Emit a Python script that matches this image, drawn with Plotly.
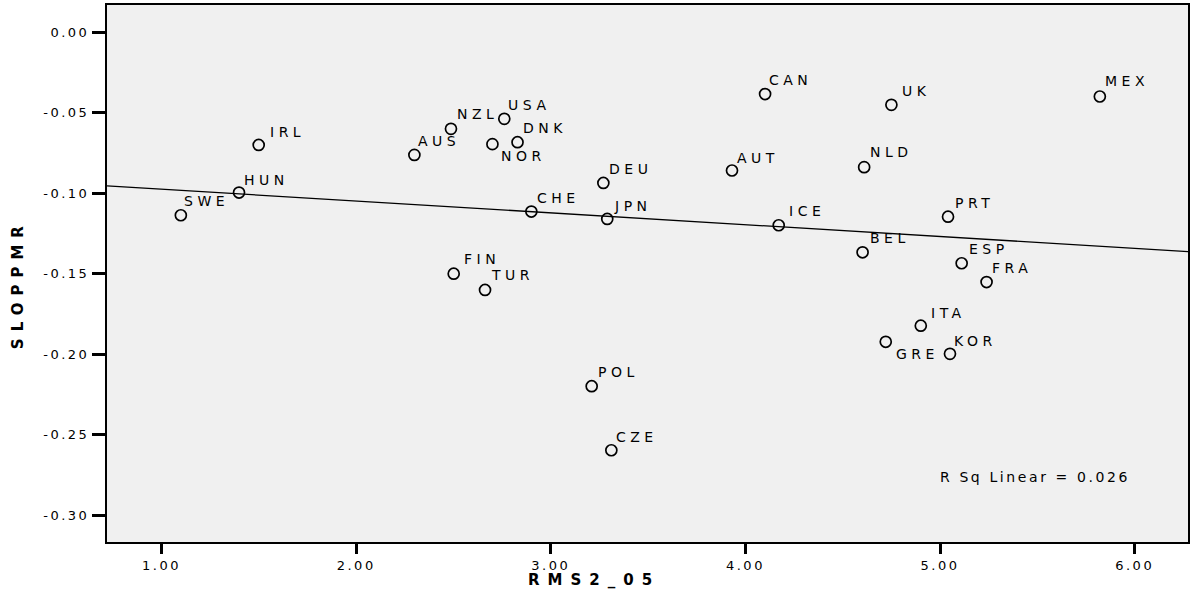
import plotly.graph_objects as go

countries = ["SWE", "HUN", "IRL", "AUS", "NZL", "USA", "NOR", "DNK", "DEU", "CHE",
             "JPN", "FIN", "TUR", "POL", "CZE", "CAN", "UK", "MEX", "AUT", "NLD",
             "ICE", "PRT", "BEL", "ESP", "FRA", "ITA", "GRE", "KOR"]
rms2_05 = [1.099, 1.398, 1.499, 2.299, 2.487, 2.761, 2.700, 2.829, 3.270, 2.900,
           3.290, 2.501, 2.662, 3.210, 3.311, 4.101, 4.750, 5.821, 3.931, 4.610,
           4.171, 5.041, 4.602, 5.111, 5.239, 4.901, 4.721, 5.051]
sloppmr = [-0.1136, -0.0995, -0.0699, -0.0761, -0.0599, -0.0537, -0.0694, -0.0682, -0.0935, -0.1113,
           -0.1159, -0.1499, -0.1600, -0.2198, -0.2596, -0.0383, -0.0450, -0.0398, -0.0858, -0.0837,
           -0.1198, -0.1145, -0.1366, -0.1434, -0.1551, -0.1822, -0.1922, -0.1997]

fit_intercept = -0.09006
fit_slope = -0.007347
r_sq_text = "R Sq Linear = 0.026"

x_ticks = [1, 2, 3, 4, 5, 6]
x_tick_labels = ["1.00", "2.00", "3.00", "4.00", "5.00", "6.00"]
y_ticks = [0.0, -0.05, -0.10, -0.15, -0.20, -0.25, -0.30]
y_tick_labels = ["0.00", "-0.05", "-0.10", "-0.15", "-0.20", "-0.25", "-0.30"]

x_range = [0.7196, 6.274]
y_range = [-0.3166, 0.01704]

# label offsets in pixels (dx right, dy down) relative to marker centre
label_offsets = {
    "SWE": (1, -14), "HUN": (3, -13), "IRL": (9, -13), "AUS": (2, -14), "NZL": (4, -15),
    "USA": (2, -14), "NOR": (7, 12), "DNK": (3, -14), "DEU": (4, -14), "CHE": (4, -14),
    "JPN": (5, -13), "FIN": (8, -15), "TUR": (4, -15), "POL": (4, -14), "CZE": (3, -13),
    "CAN": (2, -14), "UK": (9, -14), "MEX": (3, -15), "AUT": (3, -13), "NLD": (4, -15),
    "ICE": (8, -14), "PRT": (5, -14), "BEL": (5, -14), "ESP": (5, -14), "FRA": (3, -14),
    "ITA": (8, -13), "GRE": (8, 12), "KOR": (2, -13),
}

FONT = "DejaVu Sans, Arial, sans-serif"


def spaced(t, ls):
    return f'<span style="letter-spacing:{ls}px">{t}</span>'


fig = go.Figure()

fig.add_trace(go.Scatter(
    x=x_range,
    y=[fit_intercept + fit_slope * v for v in x_range],
    mode="lines",
    line=dict(color="black", width=1.3),
    hoverinfo="skip",
    showlegend=False,
))

fig.add_trace(go.Scatter(
    x=rms2_05, y=sloppmr,
    mode="markers",
    marker=dict(symbol="circle-open", size=11, color="black", line=dict(width=1.7, color="black")),
    text=countries,
    showlegend=False,
))

for c, xv, yv in zip(countries, rms2_05, sloppmr):
    dx, dy = label_offsets[c]
    fig.add_annotation(
        x=xv, y=yv, xref="x", yref="y",
        text=spaced(c, 4.5), showarrow=False,
        xanchor="left", yanchor="middle",
        xshift=dx, yshift=-dy,
        font=dict(family=FONT, size=14, color="black"),
    )

fig.add_annotation(
    x=(940 - 107) / 1083, y=(542 - 476.7) / 537, xref="paper", yref="paper",
    text=spaced(r_sq_text, 2.6), showarrow=False, xanchor="left", yanchor="middle",
    font=dict(family=FONT, size=14, color="black"),
)

fig.add_annotation(
    x=(595 - 107) / 1083, y=(542 - 580) / 537, xref="paper", yref="paper",
    text=spaced("<b>RMS2_05</b>", 8), showarrow=False, xanchor="center", yanchor="middle",
    font=dict(family=FONT, size=15, color="black"),
)
fig.add_annotation(
    x=(18 - 107) / 1083, y=(542 - 284) / 537, xref="paper", yref="paper",
    text=spaced("<b>SLOPPMR</b>", 7), showarrow=False, xanchor="center", yanchor="middle",
    textangle=-90,
    font=dict(family=FONT, size=15, color="black"),
)

axis_common = dict(
    showgrid=False, zeroline=False,
    showline=True, linecolor="black", linewidth=2, mirror=True,
    ticks="outside", tickcolor="black", tickwidth=2.5,
    tickfont=dict(family=FONT, size=13, color="black"),
)

fig.update_xaxes(
    range=x_range, tickmode="array", tickvals=x_ticks,
    ticktext=[spaced(t, 2.5) for t in x_tick_labels], ticklen=10, **axis_common,
)
fig.update_yaxes(
    range=y_range, tickmode="array", tickvals=y_ticks,
    ticktext=[spaced(t, 2.5) for t in y_tick_labels], ticklen=13, **axis_common,
)

fig.update_layout(
    width=1192, height=596,
    margin=dict(l=107, r=2, t=5, b=54),
    plot_bgcolor="#f0f0f0", paper_bgcolor="white",
    showlegend=False,
)

fig.write_html(
    "out.html",
    config={"displayModeBar": False},
    post_script="document.body.style.margin='0';document.body.style.padding='0';",
)
